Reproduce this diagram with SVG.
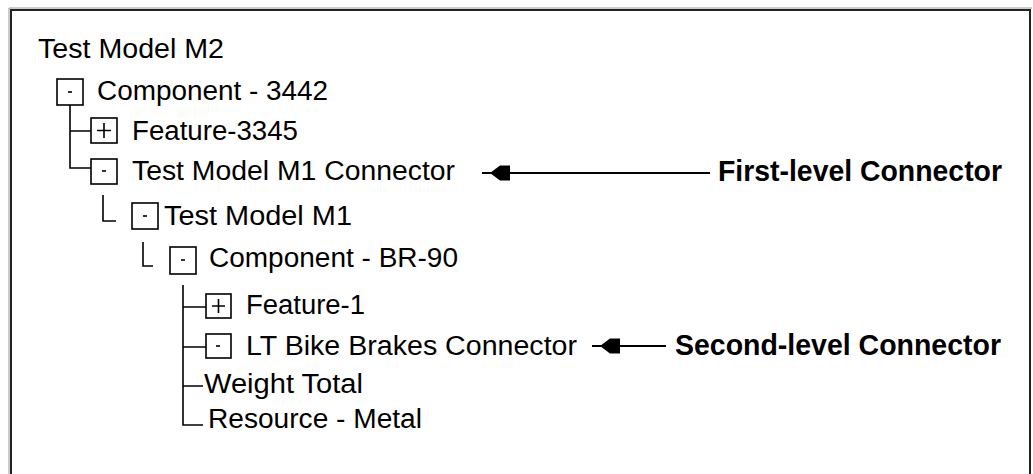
<svg xmlns="http://www.w3.org/2000/svg" width="1033" height="474" viewBox="0 0 1033 474">
  <style>
    .t { font-family: "Liberation Sans", Arial, sans-serif; font-size: 27px; fill: #000; }
    .b { font-family: "Liberation Sans", Arial, sans-serif; font-size: 29px; font-weight: bold; fill: #000; }
    .box { fill: #fff; stroke: #000; stroke-width: 1.6; }
    .sign { stroke: #000; stroke-width: 1.6; fill: none; }
    .tree { stroke: #000; stroke-width: 1.6; fill: none; }
    .arrow { stroke: #000; stroke-width: 2; fill: none; }
  </style>
  <defs>
    <marker id="head" markerUnits="userSpaceOnUse" viewBox="-22 -9 24 18" refX="0" refY="0" markerWidth="24" markerHeight="18" orient="auto" overflow="visible">
      <path d="M0,0 L-10,-7.5 L-20,-7.5 L-20,7.5 L-10,7.5 Z" fill="#000"/>
    </marker>
  </defs>
  <rect width="1033" height="474" fill="#fff"/>
  <g id="frame">
    <path d="M11,474 L11,10 L1030,10 L1030,474" fill="none" stroke="#222" stroke-width="2"/>
    <path d="M9,474 L9,8 L1032,8" fill="none" stroke="#999" stroke-width="1"/>
  </g>
  <g id="connectors">
    <path class="tree" d="M70,105 L70,168 L91,168 M70,131 L91,131"/>
    <path class="tree" d="M103,195 L103,221 L116,221"/>
    <path class="tree" d="M143,242 L143,266 L153,266"/>
    <path class="tree" d="M183,285 L183,425 L203,425 M183,307 L206,307 M183,347 L206,347 M183,386 L203,386"/>
    <path class="arrow" d="M710,173 L490,173 L482,173" marker-mid="url(#head)"/>
    <path class="arrow" d="M666,346 L600,346 L592,346" marker-mid="url(#head)"/>
  </g>
  <g id="node-test-model-m2">
    <text class="t" x="38" y="58" textLength="186" lengthAdjust="spacingAndGlyphs">Test Model M2</text>
  </g>
  <g id="node-component-3442">
    <rect class="box" x="57" y="79" width="26" height="26"/>
    <path class="sign" d="M68,92 L72,92"/>
    <text class="t" x="97" y="100" textLength="231" lengthAdjust="spacingAndGlyphs">Component - 3442</text>
  </g>
  <g id="node-feature-3345">
    <rect class="box" x="91" y="118" width="26" height="25"/>
    <path class="sign" d="M97,130.5 L111,130.5 M104,123 L104,138"/>
    <text class="t" x="132" y="140" textLength="166" lengthAdjust="spacingAndGlyphs">Feature-3345</text>
  </g>
  <g id="node-test-model-m1-connector">
    <rect class="box" x="91" y="159" width="26" height="25"/>
    <path class="sign" d="M102,171 L106,171"/>
    <text class="t" x="132" y="180" textLength="323" lengthAdjust="spacingAndGlyphs">Test Model M1 Connector</text>
  </g>
  <g id="node-test-model-m1">
    <rect class="box" x="132" y="203" width="26" height="26"/>
    <path class="sign" d="M143,216 L147,216"/>
    <text class="t" x="164" y="225" textLength="188" lengthAdjust="spacingAndGlyphs">Test Model M1</text>
  </g>
  <g id="node-component-br-90">
    <rect class="box" x="170" y="247" width="26" height="27"/>
    <path class="sign" d="M181,260 L185,260"/>
    <text class="t" x="209" y="267" textLength="249" lengthAdjust="spacingAndGlyphs">Component - BR-90</text>
  </g>
  <g id="node-feature-1">
    <rect class="box" x="206" y="294" width="25" height="24"/>
    <path class="sign" d="M212,306 L225,306 M218.5,299 L218.5,313"/>
    <text class="t" x="246" y="314" textLength="119" lengthAdjust="spacingAndGlyphs">Feature-1</text>
  </g>
  <g id="node-lt-bike-brakes-connector">
    <rect class="box" x="206" y="334" width="25" height="24"/>
    <path class="sign" d="M216,346 L220,346"/>
    <text class="t" x="246" y="355" textLength="331" lengthAdjust="spacingAndGlyphs">LT Bike Brakes Connector</text>
  </g>
  <g id="node-weight-total">
    <text class="t" x="204" y="393" textLength="159" lengthAdjust="spacingAndGlyphs">Weight Total</text>
  </g>
  <g id="node-resource-metal">
    <text class="t" x="208" y="428" textLength="214" lengthAdjust="spacingAndGlyphs">Resource - Metal</text>
  </g>
  <g id="label-first-level">
    <text class="b" x="718" y="181" textLength="284" lengthAdjust="spacingAndGlyphs">First-level Connector</text>
  </g>
  <g id="label-second-level">
    <text class="b" x="675" y="355" textLength="326" lengthAdjust="spacingAndGlyphs">Second-level Connector</text>
  </g>
</svg>
